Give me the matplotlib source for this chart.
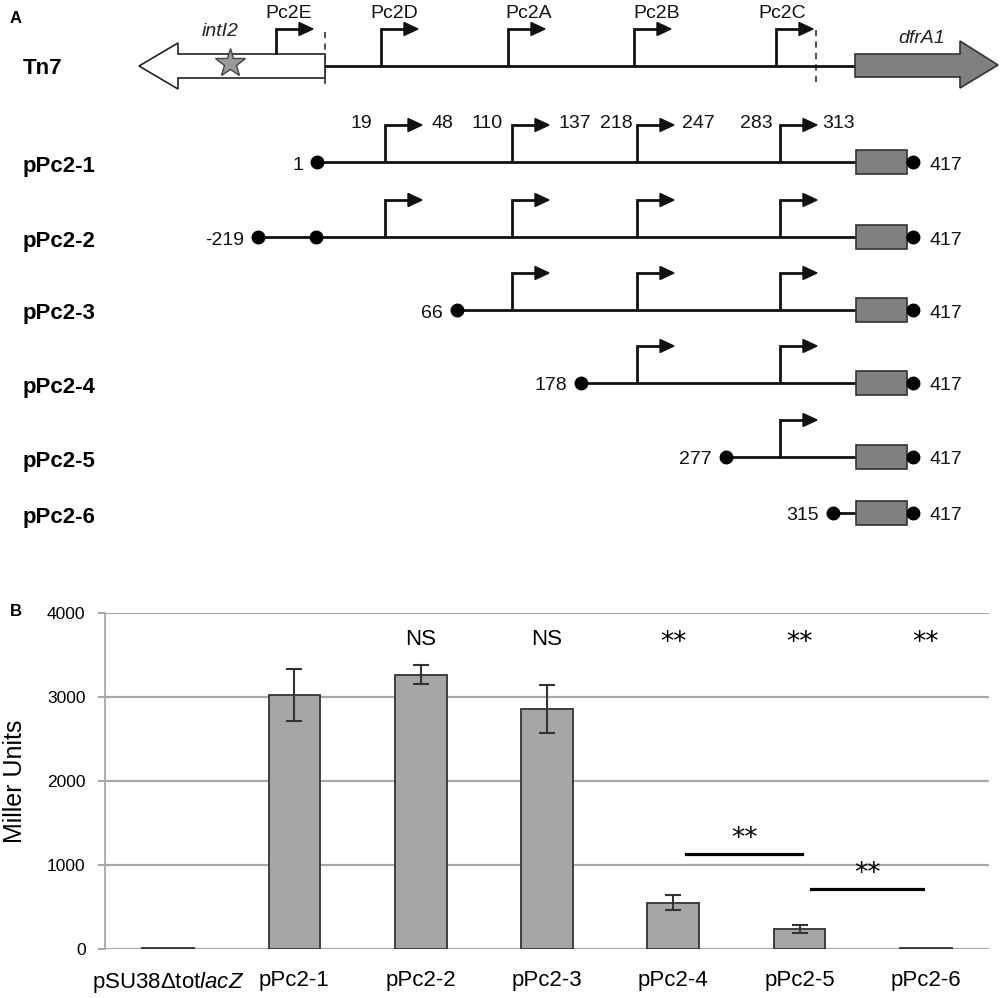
import matplotlib
matplotlib.use("Agg")
import matplotlib.pyplot as plt
from matplotlib.patches import Polygon, Rectangle

plt.rcParams['font.family'] = ['Liberation Sans', 'DejaVu Sans']
plt.rcParams['mathtext.fontset'] = 'custom'
plt.rcParams['mathtext.it'] = 'Liberation Sans:italic'
plt.rcParams['mathtext.rm'] = 'Liberation Sans'

# ---------------- data: panel B ----------------
categories = ['pSU38Δtot$\\mathit{lacZ}$', 'pPc2-1', 'pPc2-2', 'pPc2-3', 'pPc2-4', 'pPc2-5', 'pPc2-6']
miller_units = [10, 3020, 3265, 2857, 550, 238, 8]
miller_err = [0, 310, 115, 285, 90, 48, 0]
sig_labels = ['', '', 'NS', 'NS', '**', '**', '**']
y_ticks = [0, 1000, 2000, 3000, 4000]
# pairwise comparisons: (from index, to index, label)
pair_tests = [(4, 5, '**'), (5, 6, '**')]

# ---------------- data: panel A (schematic) ----------------
promoter_names = ['Pc2E', 'Pc2D', 'Pc2A', 'Pc2B', 'Pc2C']
construct_names = ['pPc2-1', 'pPc2-2', 'pPc2-3', 'pPc2-4', 'pPc2-5', 'pPc2-6']
construct_starts = ['1', '-219', '66', '178', '277', '315']
construct_end = '417'
construct_promoters = [['Pc2D', 'Pc2A', 'Pc2B', 'Pc2C'],
                       ['Pc2D', 'Pc2A', 'Pc2B', 'Pc2C'],
                       ['Pc2A', 'Pc2B', 'Pc2C'],
                       ['Pc2B', 'Pc2C'],
                       ['Pc2C'],
                       []]
promoter_bounds = [('19', '48'), ('110', '137'), ('218', '247'), ('283', '313')]

# ---------------- layout (pixel space of the figure) ----------------
W, H = 1000, 998
fig = plt.figure(figsize=(W / 100, H / 100), dpi=100)
axA = fig.add_axes([0, 0, 1, 1])
axA.set_xlim(0, W)
axA.set_ylim(H, 0)
axA.axis('off')

LW = 2.0
prom_x_tn7 = {'Pc2E': 276, 'Pc2D': 381, 'Pc2A': 508, 'Pc2B': 634, 'Pc2C': 776}
prom_x = {'Pc2D': 385, 'Pc2A': 512, 'Pc2B': 637, 'Pc2C': 780}
row_y = [162, 237, 310, 383, 457, 513]
start_x = [317, 258, 457, 581, 726, 833]
box_x0, box_x1 = 856, 907
end_x = 913


def promoter(x, y0, ytop):
    axA.plot([x, x, x + 24], [y0, ytop, ytop], color='#111111', lw=LW,
             solid_joinstyle='miter', solid_capstyle='butt', zorder=3)
    axA.add_patch(Polygon([(x + 23, ytop - 6.5), (x + 37, ytop), (x + 23, ytop + 6.5)],
                          closed=True, color='#111111', zorder=3))


# panel labels
axA.text(10, 18, 'A', fontsize=12, fontweight='bold', ha='left', va='center')
axA.text(10, 612, 'B', fontsize=12, fontweight='bold', ha='left', va='center')

# Tn7 line
ty = 66
axA.text(23, 68, 'Tn7', fontsize=16, fontweight='bold', ha='left', va='center')
axA.plot([325, 855], [ty, ty], color='#111111', lw=LW, zorder=2)
axA.add_patch(Polygon([(139, ty), (178, 43), (178, 54), (325, 54), (325, 78),
                       (178, 78), (178, 89)], closed=True, facecolor='white',
                      edgecolor='#222222', lw=1.2, zorder=2))
axA.add_patch(Polygon([(855, 54), (960, 54), (960, 41), (998, 65), (960, 88),
                       (960, 77), (855, 77)], closed=True, facecolor='#808080',
                      edgecolor='#333333', lw=1.2, zorder=2))
axA.plot([230], [63], marker='*', markersize=22, markerfacecolor='#9a9a9a',
         markeredgecolor='#444444', markeredgewidth=1.0, zorder=4)
axA.text(220, 31, 'intI2', fontsize=14, fontstyle='italic', ha='center', va='center', color='#222222')
axA.text(922, 38, 'dfrA1', fontsize=14, fontstyle='italic', ha='center', va='center', color='#222222')
axA.plot([325, 325], [32, 88], color='#555555', lw=1.5, ls=(0, (3, 2.5)), zorder=1)
axA.plot([816, 816], [30, 86], color='#555555', lw=1.5, ls=(0, (3, 2.5)), zorder=1)
label_x = {'Pc2E': 289, 'Pc2D': 394, 'Pc2A': 529, 'Pc2B': 657, 'Pc2C': 782}
for name in promoter_names:
    x = prom_x_tn7[name]
    y0 = 54 if name == 'Pc2E' else ty
    promoter(x, y0, 29)
    axA.text(label_x[name], 13, name, fontsize=14, ha='center', va='center', color='#111111')

# promoter boundary numbers above pPc2-1
bound_left_x = [372, 503, 633, 773]
bound_right_x = [432, 558, 682, 822]
for (lo, hi), xl, xr in zip(promoter_bounds, bound_left_x, bound_right_x):
    axA.text(xl, 123, lo, fontsize=14, ha='right', va='center', color='#111111')
    axA.text(xr, 123, hi, fontsize=14, ha='left', va='center', color='#111111')

# constructs
for i, name in enumerate(construct_names):
    y = row_y[i]
    axA.text(23, y + 4, name, fontsize=16, fontweight='bold', ha='left', va='center')
    axA.plot([start_x[i], box_x0], [y, y], color='#111111', lw=LW, zorder=2)
    axA.plot([start_x[i]], [y], 'o', color='black', markersize=9, zorder=4)
    if name == 'pPc2-2':
        axA.plot([316], [y], 'o', color='black', markersize=9, zorder=4)
    axA.text(start_x[i] - 14, y + 3, construct_starts[i], fontsize=14, ha='right',
             va='center', color='#111111')
    for p in construct_promoters[i]:
        promoter(prom_x[p], y, y - 37)
    axA.add_patch(Rectangle((box_x0, y - 12), box_x1 - box_x0, 24, facecolor='#808080',
                            edgecolor='#333333', lw=1.2, zorder=3))
    axA.plot([end_x], [y], 'o', color='black', markersize=9, zorder=4)
    axA.text(930, y + 3, construct_end, fontsize=14, ha='left', va='center', color='#111111')

# ---------------- panel B ----------------
ax_left, ax_right = 105, 989
y0_px, y4000_px = 949, 613
axB = fig.add_axes([ax_left / W, (H - y0_px) / H, (ax_right - ax_left) / W,
                    (y0_px - y4000_px) / H])
axB.patch.set_alpha(0)
xs = list(range(len(categories)))
axB.bar(xs, miller_units, width=0.41, color='#a6a6a6', edgecolor='#333333',
        linewidth=1.3, zorder=3)
err_idx = [i for i in xs if miller_err[i] > 0]
axB.errorbar([xs[i] for i in err_idx], [miller_units[i] for i in err_idx],
             yerr=[miller_err[i] for i in err_idx], fmt='none', ecolor='#333333',
             elinewidth=1.5, capsize=6, capthick=1.5, zorder=4)
axB.set_xlim(-0.5, len(categories) - 0.5)
axB.set_ylim(0, 4000)
axB.set_yticks(y_ticks)
axB.set_yticklabels([str(t) for t in y_ticks], fontsize=12.5)
axB.set_xticks(xs)
axB.set_xticklabels(categories, fontsize=16)
axB.tick_params(axis='x', length=0, pad=15)
axB.tick_params(axis='y', length=5, width=1.3, color='#a0a0a0', pad=9)
axB.grid(axis='y', color='#a8a8a8', lw=1.6, zorder=0)
axB.set_axisbelow(True)
for s in ['top', 'right', 'bottom']:
    axB.spines[s].set_visible(False)
axB.spines['left'].set_color('#a8a8a8')
axB.spines['left'].set_linewidth(1.3)
axB.set_ylabel('Miller Units', fontsize=18, labelpad=14)

for i, lab in enumerate(sig_labels):
    if lab == 'NS':
        axB.text(xs[i], 3620, lab, fontsize=16, ha='center', va='baseline')
    elif lab:
        axB.text(xs[i], 3560, lab, fontsize=19, ha='center', va='baseline',
                 family='DejaVu Sans')

pair_line_y = [1131, 714]
pair_text_y = [1230, 810]
for (a, b, lab), ly, ty_ in zip(pair_tests, pair_line_y, pair_text_y):
    xa, xb = a + 0.1, b + 0.02
    if a == 5:
        xa, xb = a + 0.09, b - 0.02
    axB.plot([xa, xb], [ly, ly], color='black', lw=2.3, zorder=5)
    axB.text((xa + xb) / 2, ty_, lab, fontsize=19, ha='center', va='baseline',
             family='DejaVu Sans')

fig.savefig('out.png', dpi=100)
